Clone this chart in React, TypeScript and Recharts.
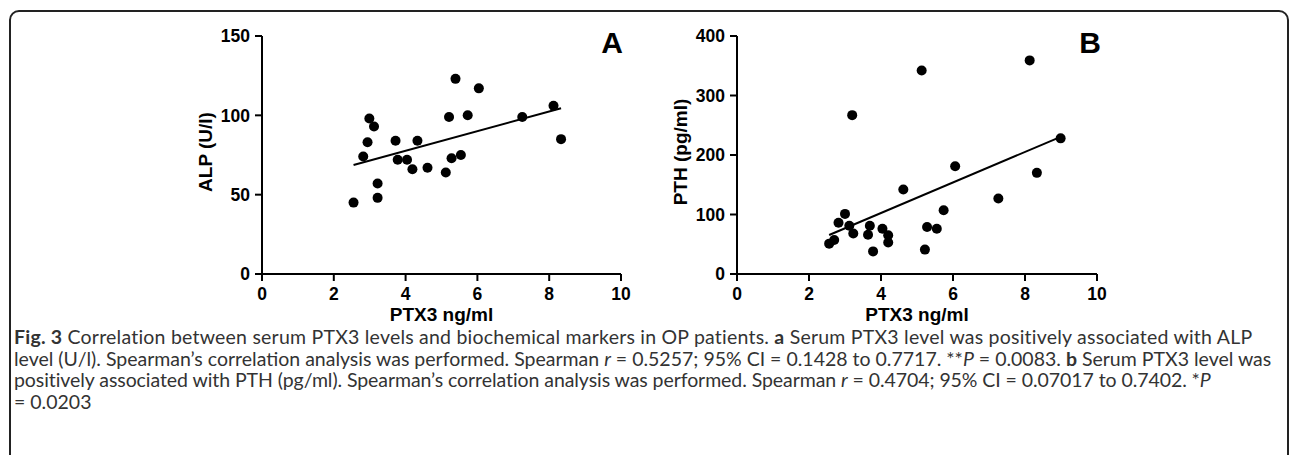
import React from "react"
import { ScatterChart, Scatter, XAxis, YAxis, ReferenceLine } from "recharts"

// PTX3 (ng/ml) on x for both panels
const xTicks = [0, 2, 4, 6, 8, 10]
const alpTicks = [0, 50, 100, 150]
const pthTicks = [0, 100, 200, 300, 400]

// panel A: PTX3 vs ALP
const ptx3A = [2.55, 2.82, 2.94, 2.99, 3.12, 3.22, 3.22, 3.72, 3.78, 4.04, 4.19, 4.33, 4.61, 5.12, 5.21, 5.28, 5.39, 5.54, 5.73, 6.04, 7.25, 8.12, 8.33]
const alp = [45, 74, 83, 98, 93, 57, 48, 84, 72, 72, 66, 84, 67, 64, 99, 73, 123, 75, 100, 117, 99, 106, 85]
const alpFitX = [2.55, 8.33]
const alpFitY = [68.7, 104.5]

// panel B: PTX3 vs PTH
const ptx3B = [2.56, 2.7, 2.82, 3.0, 3.12, 3.2, 3.23, 3.64, 3.69, 3.78, 4.04, 4.2, 4.2, 4.62, 5.13, 5.22, 5.28, 5.55, 5.74, 6.06, 7.26, 8.13, 8.33, 8.99]
const pth = [51, 57, 86, 101, 81, 267, 68, 66, 81, 38, 76, 65, 53, 142, 342, 41, 79, 76, 107, 181, 127, 359, 170, 228]
const pthFitX = [2.56, 8.99]
const pthFitY = [65.5, 230.5]

const dataA = ptx3A.map((x, i) => ({ x, y: alp[i] }))
const dataB = ptx3B.map((x, i) => ({ x, y: pth[i] }))

const chartFont = "'Liberation Sans', Arial, sans-serif"
const tickStyle = { fill: "#000", fontSize: 17.5, fontWeight: 700, fontFamily: chartFont }

const dot = (p: any) => <circle cx={p.cx} cy={p.cy} r={5} fill="#000" />

const yTitle = (text: string) => (props: any) => {
  const vb = props.viewBox
  const cx = vb.x + vb.width - 50
  const cy = vb.y + vb.height / 2 - 3
  return (
    <text x={cx} y={cy} transform={`rotate(-90 ${cx} ${cy})`} textAnchor="middle"
      fontSize={19} fontWeight={700} fontFamily={chartFont} fill="#000">
      {text}
    </text>
  )
}

const xTitle = (props: any) => {
  const vb = props.viewBox
  return (
    <text x={vb.x + vb.width / 2} y={vb.y + 47} textAnchor="middle"
      fontSize={19} fontWeight={700} fontFamily={chartFont} fill="#000">
      PTX3 ng/ml
    </text>
  )
}

function Panel({ data, yTicks, yMax, yLabel, fitX, fitY, left, ml, mr }: any) {
  return (
    <div style={{ position: "absolute", left, top: 20 }}>
      <ScatterChart width={500} height={320} margin={{ top: 16, right: mr, bottom: 36, left: ml }}>
        <XAxis type="number" dataKey="x" domain={[0, 10]} ticks={xTicks} interval={0}
          axisLine={{ stroke: "#000", strokeWidth: 2 }} tickLine={{ stroke: "#000", strokeWidth: 2 }}
          tickSize={7} tickMargin={7} tick={tickStyle} height={30} label={xTitle} />
        <YAxis type="number" dataKey="y" domain={[0, yMax]} ticks={yTicks} interval={0}
          axisLine={{ stroke: "#000", strokeWidth: 2 }} tickLine={{ stroke: "#000", strokeWidth: 2 }}
          tickSize={7} tickMargin={5} tick={tickStyle} width={60} label={yTitle(yLabel)} />
        <Scatter data={data} shape={dot} isAnimationActive={false} />
        <ReferenceLine segment={[{ x: fitX[0], y: fitY[0] }, { x: fitX[1], y: fitY[1] }]}
          stroke="#000" strokeWidth={2} ifOverflow="visible" />
      </ScatterChart>
    </div>
  )
}

const capFont = "Lato, 'Open Sans', sans-serif"

export default function App() {
  const letter = { position: "absolute" as const, top: 28, width: 40, textAlign: "center" as const,
    fontFamily: chartFont, fontWeight: 700, fontSize: 30, lineHeight: "30px", color: "#000" }
  const bold = { fontWeight: 700 }
  return (
    <div style={{ position: "absolute", left: 0, top: 0, width: 1292, height: 455, overflow: "hidden", background: "#fff" }}>
      <div style={{ position: "absolute", left: 9, top: 10, width: 1280, height: 470, border: "2px solid #222",
        borderRadius: 10, boxSizing: "border-box" }} />
      <Panel data={dataA} yTicks={alpTicks} yMax={150} yLabel="ALP (U/l)" fitX={alpFitX} fitY={alpFitY}
        left={150} ml={52} mr={29} />
      <Panel data={dataB} yTicks={pthTicks} yMax={400} yLabel="PTH (pg/ml)" fitX={pthFitX} fitY={pthFitY}
        left={620} ml={57} mr={23} />
      <div style={{ ...letter, left: 592 }}>A</div>
      <div style={{ ...letter, left: 1070 }}>B</div>
      <div style={{ position: "absolute", left: 14, top: 326, fontFamily: capFont, fontSize: 19.5,
        lineHeight: "21.7px", color: "#333", whiteSpace: "nowrap" }}>
        <div style={{ letterSpacing: 0.22 }}><b style={bold}>Fig. 3</b> Correlation between serum PTX3 levels and biochemical markers in OP patients. <b style={bold}>a</b> Serum PTX3 level was positively associated with ALP</div>
        <div>level (U/l). Spearman’s correlation analysis was performed. Spearman <i>r</i> = 0.5257; 95% CI = 0.1428 to 0.7717. **<i>P</i> = 0.0083. <b style={bold}>b</b> Serum PTX3 level was</div>
        <div style={{ letterSpacing: -0.07 }}>positively associated with PTH (pg/ml). Spearman’s correlation analysis was performed. Spearman <i>r</i> = 0.4704; 95% CI = 0.07017 to 0.7402. *<i>P</i></div>
        <div>= 0.0203</div>
      </div>
    </div>
  )
}
